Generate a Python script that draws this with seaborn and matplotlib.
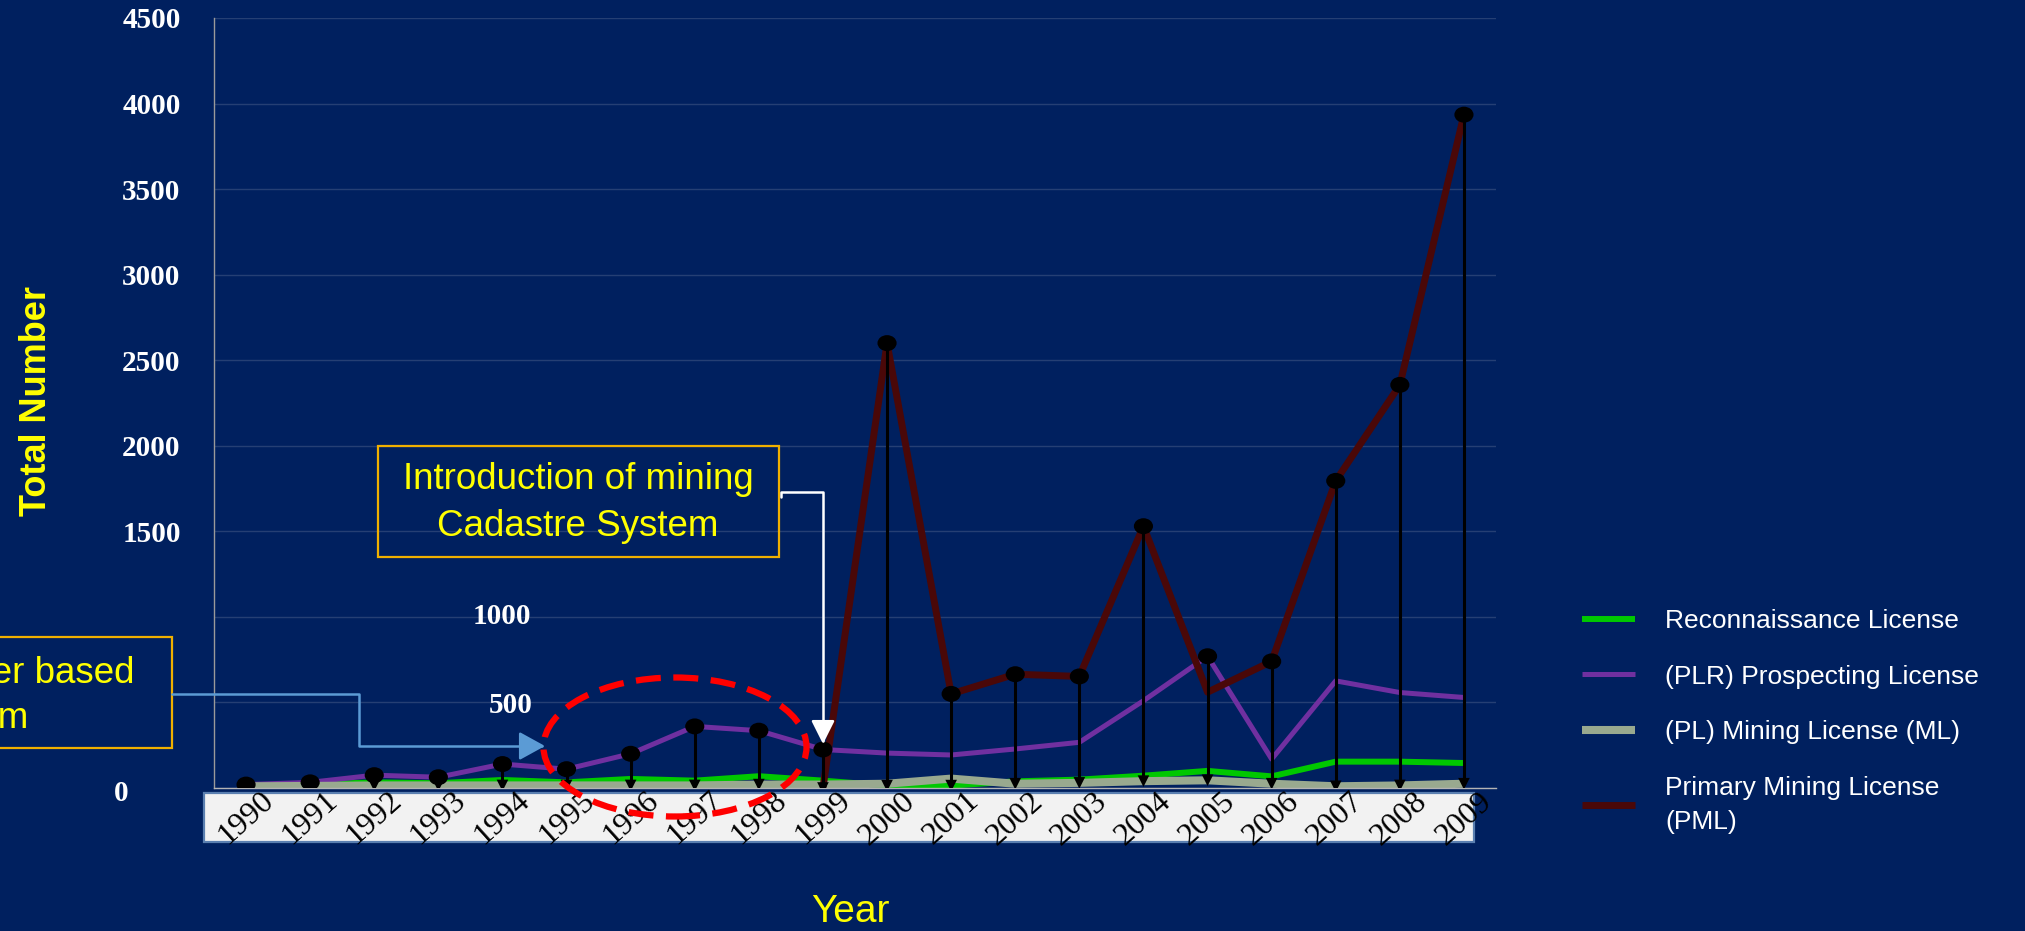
import numpy as np
import pandas as pd
import matplotlib
matplotlib.use("Agg")
import matplotlib.pyplot as plt
import seaborn as sns
from matplotlib.patches import Rectangle, Ellipse, FancyArrowPatch
from matplotlib.path import Path
from matplotlib.transforms import Affine2D, ScaledTranslation, blended_transform_factory

# ---- data -------------------------------------------------------------
years = [str(y) for y in range(1990, 2010)]
reconnaissance = [14, 20, 33, 28, 47, 33, 53, 43, 69, 43,
                  14, 14, 39, 49, 72, 100, 68, 154, 154, 146]
prospecting = [20, 33, 75, 63, 140, 110, 200, 360, 335, 225,
               204, 193, 228, 267, 510, 770, 169, 626, 558, 529]
mining = [10, 12, 15, 15, 15, 15, 15, 15, 20, 20,
          25, 55, 25, 30, 40, 45, 25, 10, 15, 25]
primary = [np.nan] * 9 + [0, 2600, 550, 665, 652, 1530, 560, 740, 1795, 2356, 3935]

series_names = ["Reconnaissance License", "(PLR) Prospecting License",
                "(PL) Mining License (ML)", "Primary Mining License\n(PML)"]
series_values = [reconnaissance, prospecting, mining, primary]
series_colors = ["#00c800", "#7030a0", "#99a98f", "#4a0808"]
series_widths = [4.3, 3.6, 5.8, 5.0]

y_ticks = list(range(0, 4501, 500))

# ---- style -------------------------------------------------------------
BG = "#00205f"
GRID = "#253f74"
YELLOW = "#ffff00"
sns.set_style("white")
plt.rcParams["font.family"] = ["Liberation Sans", "DejaVu Sans"]

W, H = 2025, 931
fig = plt.figure(figsize=(W / 100, H / 100), dpi=100, facecolor=BG)


def fx(px):
    return px / W


def fy(py):
    return 1 - py / H


ax = fig.add_axes([fx(214), fy(788), fx(1282), 770 / H])
ax.set_facecolor(BG)

xpos = np.arange(len(years))
df = pd.DataFrame({"x": xpos})
handles = []
for name, vals, col, lw, z in zip(series_names, series_values, series_colors,
                                  series_widths, [2.0, 2.1, 2.2, 2.3]):
    df[name] = vals
    sub = df[["x", name]].dropna()
    sns.lineplot(x=sub["x"], y=sub[name], color=col, linewidth=lw, ax=ax,
                 sort=False, zorder=z, legend=False)
    line = ax.lines[-1]
    line.set_solid_capstyle("butt")
    handles.append(line)

# high / low stems for every year
table = pd.DataFrame(dict(zip(series_names, series_values)))
highs = table.max(axis=1).to_numpy()
lows = table.min(axis=1).to_numpy()
ax.vlines(xpos, lows, highs, color="black", linewidth=2.2, zorder=4)
sns.scatterplot(x=xpos, y=lows, marker="v", s=70, color="black",
                edgecolor="none", ax=ax, zorder=4.5, legend=False)
oval = Path.unit_circle().transformed(Affine2D().scale(1.2, 1.0))
sns.scatterplot(x=xpos, y=highs, marker=oval, s=190, color="black",
                edgecolor="none", ax=ax, zorder=5, legend=False)

# ---- axes ----------------------------------------------------------------
ax.set_xlim(-0.5, len(years) - 0.5)
ax.set_ylim(0, 4500)
ax.set_yticks(y_ticks)
ax.set_yticklabels(["" if v <= 1000 else str(v) for v in y_ticks],
                   family="Liberation Serif", weight="bold", size=21, color="white")
ax.set_xticks(xpos)
ax.set_xticklabels(years, rotation=42, rotation_mode="anchor", ha="center", va="center",
                   family="Liberation Serif", size=23, color="black")
shift = ScaledTranslation(-12 / 100, 0, fig.dpi_scale_trans)
for t in ax.get_xticklabels():
    t.set_transform(t.get_transform() + shift)
ax.tick_params(axis="x", length=0, pad=22)
ax.tick_params(axis="y", length=6, width=1, color=GRID, pad=18)
ax.yaxis.grid(True, color=GRID, linewidth=1)
ax.xaxis.grid(False)
ax.set_axisbelow(True)
for s in ["top", "right"]:
    ax.spines[s].set_visible(False)
ax.spines["left"].set_color("#9a9a9a")
ax.spines["left"].set_linewidth(1)
ax.spines["bottom"].set_color("#b4b4b4")
ax.spines["bottom"].set_linewidth(1)
ax.set_xlabel("")
ax.set_ylabel("")

# light band behind the year labels
ax.add_patch(Rectangle((-10 / 1282, -54 / 770), 1270 / 1282, 49 / 770,
                       transform=ax.transAxes, facecolor="#f2f2f2",
                       edgecolor="#5a7fb0", linewidth=1.6, clip_on=False, zorder=0.5))

# the three lower value labels sit away from the axis
lbl = blended_transform_factory(ax.transAxes, ax.transData)
serif = dict(family="Liberation Serif", weight="bold", size=21, color="white",
             ha="center", va="center")
ax.text((502 - 214) / 1282, 1000, "1000", transform=lbl, **serif)
ax.text((511 - 214) / 1282, 480, "500", transform=lbl, **serif)
ax.text((121 - 214) / 1282, -35, "0", transform=lbl, **serif)

# axis titles
fig.text(fx(37), fy(401), "Total Number", rotation=90, color=YELLOW, weight="bold",
         size=26, ha="center", va="center")
fig.text(fx(850), fy(930), "Year", color=YELLOW, size=28, ha="center", va="bottom")

# ---- legend --------------------------------------------------------------
leg = fig.legend(handles, series_names, loc="upper left",
                 bbox_to_anchor=(fx(1582), fy(609)), frameon=False,
                 fontsize=19, labelspacing=1.2, handlelength=2.0,
                 handletextpad=1.15, borderpad=0, borderaxespad=0)
for t in leg.get_texts():
    t.set_color("white")
    t.set_linespacing(1.5)

# ---- callouts --------------------------------------------------------------
# mining cadastre box
fig.add_artist(Rectangle((fx(378), fy(557)), fx(401), 111 / H, transform=fig.transFigure,
                         facecolor="none", edgecolor="#f0b000", linewidth=1.6))
fig.text(fx(578), fy(503), "Introduction of mining\nCadastre System", color=YELLOW,
         size=26.5, ha="center", va="center", multialignment="center", linespacing=1.43)
white_path = Path([(fx(781), fy(497)), (fx(781), fy(492)), (fx(823), fy(492)),
                   (fx(823), fy(744))])
fig.add_artist(FancyArrowPatch(path=white_path, arrowstyle="-|>,head_length=0.9,head_width=0.45",
                               mutation_scale=16, color="white", linewidth=1.8,
                               transform=fig.transFigure))

# earlier paper based system box
fig.add_artist(Rectangle((fx(-240), fy(748)), fx(412), 111 / H, transform=fig.transFigure,
                         facecolor="none", edgecolor="#f0b000", linewidth=1.6))
fig.text(fx(-33), fy(696), "Manual paper based\nSystem", color=YELLOW,
         size=26.5, ha="center", va="center", multialignment="center", linespacing=1.38)
blue_path = Path([(fx(172), fy(694)), (fx(359), fy(694)), (fx(359), fy(746)),
                  (fx(545), fy(746))])
fig.add_artist(FancyArrowPatch(path=blue_path, arrowstyle="-|>,head_length=1.0,head_width=0.55",
                               mutation_scale=16, color="#5b9bd5", linewidth=1.8,
                               transform=fig.transFigure))

# dashed ring around the pre-cadastre years
ax.add_patch(Ellipse(((675 - 214) / 64.1 - 0.5, (788 - 747) / 0.1711),
                     width=263 / 64.1, height=139 / 0.1711, fill=False,
                     edgecolor="#ff0000", linewidth=4.5, linestyle=(0, (4, 2)),
                     clip_on=False, zorder=6))

fig.savefig("out.png", dpi=100, facecolor=BG)
